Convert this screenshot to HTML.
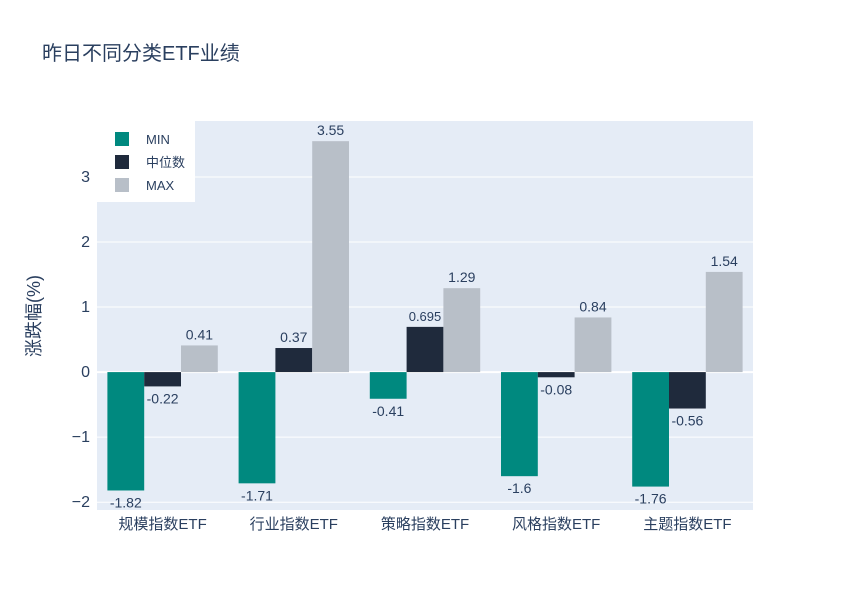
<!DOCTYPE html>
<html><head><meta charset="utf-8"><style>
body{margin:0;background:#fff;font-family:"Liberation Sans","Noto Sans CJK SC",sans-serif;}
svg text{font-family:"Liberation Sans","Noto Sans CJK SC",sans-serif;}
</style></head><body>
<svg id="chart" width="851" height="608" xmlns="http://www.w3.org/2000/svg">
<rect width="851" height="608" fill="#fff"/>
<text x="42" y="60" font-size="20" fill="#2a3f5f">昨日不同分类ETF业绩</text>
<rect x="97" y="121" width="656" height="389" fill="#e5ecf6"/>
<g id="grid"></g><g id="bars"></g><g id="labels"></g>
<text transform="translate(40,316) rotate(-90)" text-anchor="middle" font-size="18" fill="#2a3f5f">涨跌幅(%)</text>
<g>
<rect x="97" y="121" width="98" height="81" fill="#fff"/>
<rect x="115" y="132" width="14" height="14" fill="#00897f"/>
<text x="146" y="144" font-size="13" fill="#2a3f5f">MIN</text>
<rect x="115" y="155" width="14" height="14" fill="#1f2a3c"/>
<text x="146" y="167" font-size="13" fill="#2a3f5f">中位数</text>
<rect x="115" y="178" width="14" height="14" fill="#b8bfc8"/>
<text x="146" y="190" font-size="13" fill="#2a3f5f">MAX</text>
</g>
</svg>
<script>
const categories=["规模指数ETF","行业指数ETF","策略指数ETF","风格指数ETF","主题指数ETF"];
const minVals=[-1.82,-1.71,-0.41,-1.6,-1.76];
const medVals=[-0.22,0.37,0.695,-0.08,-0.56];
const maxVals=[0.41,3.55,1.29,0.84,1.54];
const yTicks=[-2,-1,0,1,2,3];
const yTickLabels=["−2","−1","0","1","2","3"];
const NS="http://www.w3.org/2000/svg";
const x0=97,pw=656,y0=121,ph=389,yMin=-2.12,yMax=3.86;
const y=v=>y0+(yMax-v)/(yMax-yMin)*ph;
const gw=pw/categories.length;
function mk(tag,attrs,parent,text){const e=document.createElementNS(NS,tag);for(const k in attrs)e.setAttribute(k,attrs[k]);if(text!==undefined)e.textContent=text;document.getElementById(parent).appendChild(e);return e;}
yTicks.forEach((t,i)=>{
 const l=mk("line",{x1:x0,x2:x0+pw,y1:y(t),y2:y(t),stroke:"#fff","stroke-width":t===0?2:1},"grid");
 
 
 const tx=mk("text",{x:90,y:y(t)+5,"text-anchor":"end","font-size":16,fill:"#2a3f5f"},"grid",yTickLabels[i]);
 
 
});
const series=[[minVals,"#00897f","min"],[medVals,"#1f2a3c","median"],[maxVals,"#b8bfc8","max"]];
const bw=36.8;
categories.forEach((c,i)=>{
 const cx=x0+gw*(i+0.5);
 const t=mk("text",{x:cx,y:529,"text-anchor":"middle","font-size":15,fill:"#2a3f5f"},"labels",c);
 
 
 series.forEach((s,j)=>{
  const v=s[0][i];const bx=cx+(j-1.5)*bw;
  const top=Math.min(y(v),y(0)),h=Math.abs(y(v)-y(0));
  const r=mk("rect",{x:bx,y:top,width:bw,height:h,fill:s[1]},"bars");
  
  
  const ly=v>=0?y(v)-6:y(v)+17;
  const lt=mk("text",{x:bx+bw/2,y:ly,"text-anchor":"middle","font-size":v===0.695?13:14,fill:"#2a3f5f"},"labels",String(v));
  
  
 });
});
</script>
</body></html>
